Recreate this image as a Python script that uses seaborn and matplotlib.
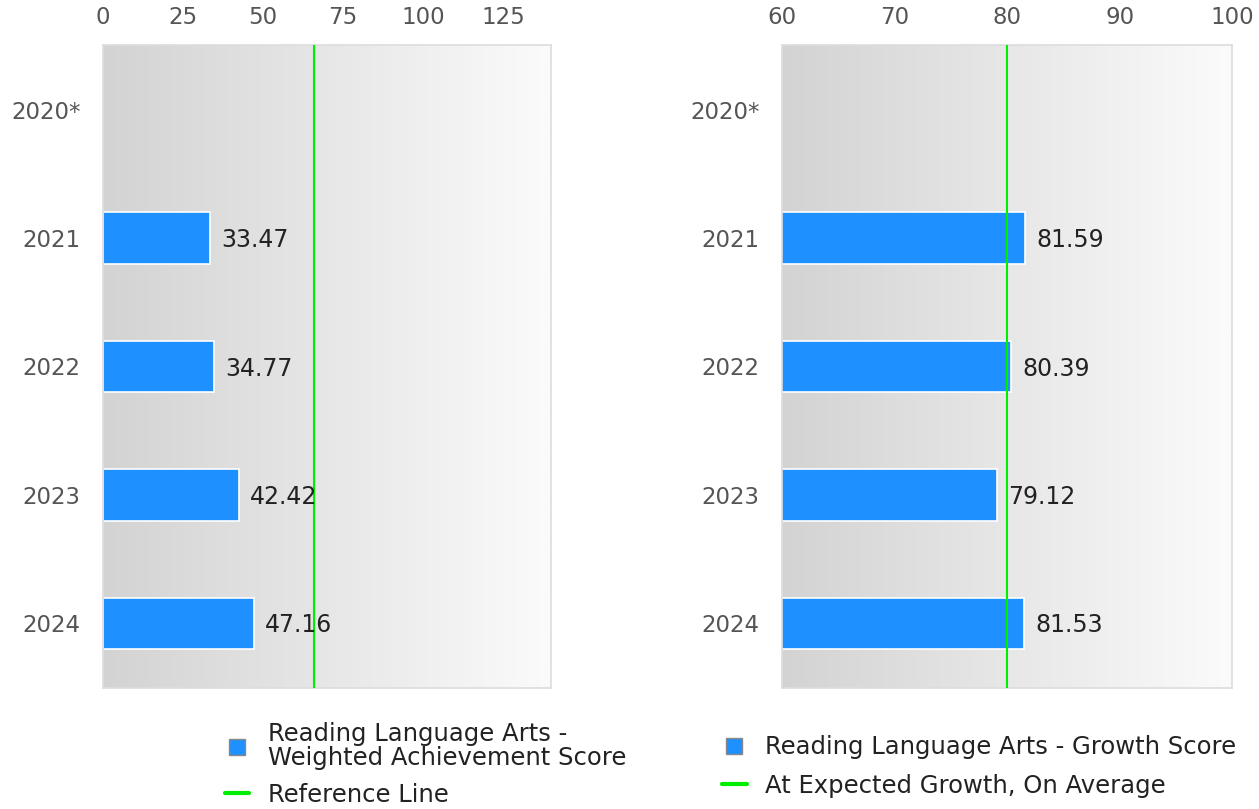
import numpy as np
import pandas as pd
import seaborn as sns
import matplotlib.pyplot as plt
from matplotlib.colors import LinearSegmentedColormap
from matplotlib.lines import Line2D

years = ["2020*", "2021", "2022", "2023", "2024"]
achievement = [np.nan, 33.47, 34.77, 42.42, 47.16]
growth = [np.nan, 81.59, 80.39, 79.12, 81.53]
ach_reference = 66
growth_reference = 80

ach_ticks = [0, 25, 50, 75, 100, 125]
growth_ticks = [60, 70, 80, 90, 100]

sns.set_style("white")
plt.rcParams["font.family"] = ["DejaVu Sans"]

BLUE = "#1e90ff"
GREEN = "#00ee00"
FS = 17

fig = plt.figure(figsize=(12.59, 8.09), dpi=100)
ax1 = fig.add_axes([0.0818, 0.150, 0.3559, 0.794])
ax2 = fig.add_axes([0.6212, 0.150, 0.3574, 0.794])

grad_cmap = LinearSegmentedColormap.from_list("bg", ["#d3d3d3", "#fbfbfb"])


def draw_panel(ax, values, ref, xlim, ticks):
    df = pd.DataFrame({"year": years, "value": values})
    ax.imshow(np.linspace(0, 1, 256).reshape(1, -1), extent=[0, 1, 0, 1],
              transform=ax.transAxes, aspect="auto", cmap=grad_cmap, zorder=0)
    sns.barplot(data=df, x="value", y="year", order=years, orient="h",
                color=BLUE, saturation=1, width=0.4, edgecolor="white",
                linewidth=1.2, ax=ax, zorder=2)
    ax.axvline(ref, color=GREEN, lw=1.5, zorder=3)
    for i, v in enumerate(values):
        if not np.isnan(v):
            ax.annotate(f"{v:.2f}", (v, i), xytext=(8, -1.5), textcoords="offset points",
                        va="center", ha="left", fontsize=FS, color="#222222", zorder=4)
    ax.set_xlim(*xlim)
    ax.set_ylim(4.5, -0.5)
    ax.set_xticks(ticks)
    ax.xaxis.tick_top()
    ax.tick_params(axis="both", length=0, labelsize=FS - 0.5, labelcolor="#555555")
    ax.tick_params(axis="x", pad=12)
    ax.tick_params(axis="y", pad=16)
    ax.set_xlabel("")
    ax.set_ylabel("")
    for s in ax.spines.values():
        s.set_color("#dddddd")
        s.set_linewidth(1.2)


draw_panel(ax1, achievement, ach_reference, (0, 140), ach_ticks)
draw_panel(ax2, growth, growth_reference, (60, 100), growth_ticks)

sq = Line2D([], [], marker="s", ls="none", markersize=11, markerfacecolor=BLUE,
            markeredgecolor="#888888", markeredgewidth=1)
gl = Line2D([], [], color=GREEN, lw=3)

leg_kw = dict(frameon=False, fontsize=17.5, handlelength=1.0, handletextpad=0.75,
              borderaxespad=0, labelcolor="#222222")
leg1 = fig.legend([sq, gl], ["Reading Language Arts -\nWeighted Achievement Score", "Reference Line"],
                  loc="upper left", bbox_to_anchor=(0.171, 0.119), labelspacing=0.55, **leg_kw)
for t in leg1.get_texts():
    t.set_linespacing(0.95)
fig.legend([sq, gl], ["Reading Language Arts - Growth Score", "At Expected Growth, On Average"],
           loc="upper left", bbox_to_anchor=(0.566, 0.103), labelspacing=0.6, **leg_kw)

fig.savefig("out.png", dpi=100)
